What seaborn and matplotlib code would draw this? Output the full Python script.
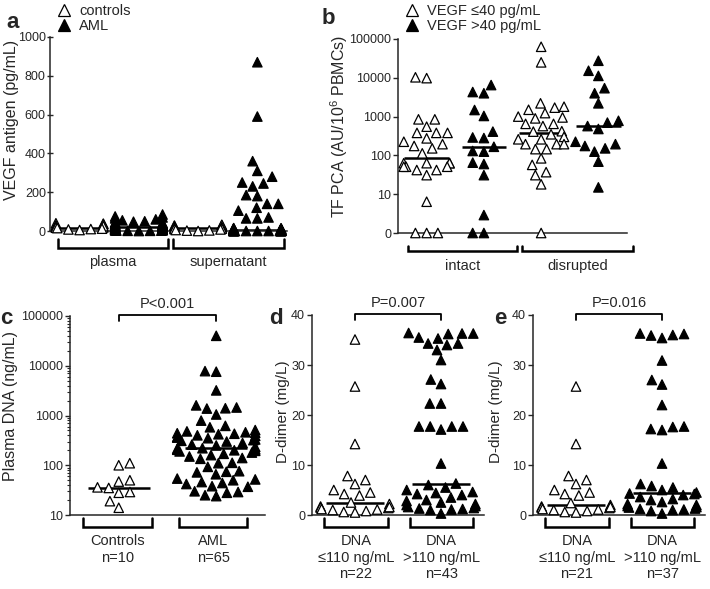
import matplotlib
matplotlib.use('Agg')
import matplotlib.pyplot as plt
from matplotlib.lines import Line2D
import numpy as np
import pandas as pd
import seaborn as sns
import warnings

warnings.filterwarnings('ignore')

# ---- panel a: VEGF antigen (pg/mL) ----
a_groups = ['plasma controls', 'plasma AML', 'supernatant controls', 'supernatant AML']
a_fills = ['open', 'filled', 'open', 'filled']
a_plasma_controls = [38, 40, 35, 30, 22, 17, 18, 25, 15, 10, 8, 5, 12]
a_plasma_aml = [85, 75, 70, 65, 60, 55, 50, 48, 45, 42, 40, 38, 36, 35, 34, 32, 30, 30,
                28, 28, 26, 25, 25, 24, 22, 22, 21, 20, 20, 19, 18, 18, 17, 16, 16, 15,
                15, 14, 13, 12, 12, 11, 10, 10, 9, 8, 8, 7, 6, 5, 5, 4, 3, 2, 2, 1, 1, 0]
a_super_controls = [30, 32, 28, 25, 20, 18, 15, 12, 10, 8, 5, 3, 2, 0]
a_super_aml = [870, 590, 360, 310, 280, 250, 245, 230, 185, 180, 140, 140, 120, 105, 70, 65, 65,
               15, 14, 13, 12, 12, 11, 10, 10, 9, 9, 8, 8, 7, 7, 6, 6, 5, 5, 5, 4, 4, 4,
               3, 3, 3, 2, 2, 2, 2, 1, 1, 1, 1, 1, 0, 0, 0, 0, 0, 0, 0, 0, 0, 0, 0]
a_labels = ['plasma', 'supernatant']

# ---- panel b: TF PCA (AU/10^6 PBMCs) ----
b_groups = ['intact low', 'intact high', 'disrupted low', 'disrupted high']
b_fills = ['open', 'filled', 'open', 'filled']
b_intact_low = [10300, 9800, 850, 850, 550, 380, 380, 380, 275, 225, 195, 175, 152, 113,
                63, 63, 63, 63, 51, 51, 51, 42, 42, 31, 6.4, 0, 0, 0]
b_intact_high = [6500, 4300, 4000, 1480, 1040, 410, 280, 290, 167, 125, 130, 60, 65, 31, 2.9, 0, 0]
b_disrupted_low = [63000, 25000, 2200, 1800, 1700, 1500, 1230, 1000, 900, 950, 650, 650, 570,
                   410, 420, 350, 300, 260, 260, 195, 195, 195, 145, 145, 84, 57, 37, 31, 18, 0]
b_disrupted_high = [27500, 15200, 11200, 5400, 4000, 2200, 780, 700, 570, 480, 225, 195, 175,
                    152, 125, 69, 15]
b_labels = ['intact', 'disrupted']

# ---- panel c: Plasma DNA (ng/mL) ----
c_groups = ['Controls', 'AML']
c_fills = ['open', 'filled']
c_controls = [110, 100, 50, 47, 36, 35, 29, 28, 19, 14]
c_aml = [40000, 7600, 7800, 3200, 1600, 1450, 1380, 1400, 1050, 790, 620, 580,
         510, 480, 460, 450, 440, 430, 420, 400, 390, 370, 360, 350, 330, 320, 310,
         300, 280, 260, 250, 235, 220,
         215, 210, 205, 200, 195, 190, 180, 170, 160, 150,
         140, 135, 112, 110, 93, 74, 72, 76, 66, 52, 50, 54, 44, 42, 46, 37, 38, 29, 28, 30, 25, 24]
c_labels = ['Controls\nn=10', 'AML\nn=65']

# ---- panel d: D-dimer (mg/L) ----
d_groups = ['low', 'high']
d_low = [35.1, 25.7, 14.2, 7.8, 7.0, 6.2, 5.0, 4.5, 4.2, 3.9, 2.5, 2.2, 1.7, 1.5, 1.4, 1.2,
         1.0, 1.1, 0.8, 0.6, 0.5, 1.6]
d_high = [36.3, 35.5, 36.3, 35.3, 36.2, 36.4, 34.3, 34.0, 34.3, 33.0, 31.0, 27.1, 26.2, 22.3,
          22.3, 17.7, 17.7, 17.7, 17.7, 17.1, 10.3, 6.3, 6.0,
          5.5, 5.0, 4.6, 4.4, 4.2, 4.0, 3.5, 3.0, 2.8, 2.5, 2.2, 2.0, 1.8, 1.6, 1.4, 1.3, 1.2, 1.1, 1.0, 0.3]
d_labels = ['DNA\n\u2264110 ng/mL\nn=22', 'DNA\n>110 ng/mL\nn=43']

# ---- panel e: D-dimer (mg/L) ----
e_low = [25.7, 14.2, 7.8, 7.0, 6.2, 5.0, 4.5, 4.2, 3.9, 2.4, 2.0, 1.7, 1.5, 1.4, 1.2, 1.0,
         1.1, 0.8, 0.6, 0.5, 1.6]
e_high = [36.3, 36.0, 35.4, 35.9, 36.2, 30.9, 27.0, 26.1, 22.0, 17.7, 17.0, 17.2, 17.6, 10.3,
          6.2, 5.8, 5.5, 5.0, 4.5,
          4.3, 4.2, 4.0, 3.6, 3.2, 3.0, 2.6, 2.2, 2.0, 1.8, 1.6, 1.5, 1.3, 1.2, 1.1, 1.0, 0.8, 0.3]
e_labels = ['DNA\n\u2264110 ng/mL\nn=21', 'DNA\n>110 ng/mL\nn=37']


sns.set_style('ticks')
plt.rcParams['font.family'] = ['Liberation Sans', 'DejaVu Sans']
plt.rcParams['mathtext.fontset'] = 'custom'
plt.rcParams['mathtext.rm'] = 'Liberation Sans'
plt.rcParams['mathtext.default'] = 'rm'


def long_frame(groups, fills, values):
    rows = []
    for g, f, vals in zip(groups, fills, values):
        rows += [(g, f, v) for v in vals]
    return pd.DataFrame(rows, columns=['group', 'fill', 'value'])


def column_scatter(ax, df, order, med_width):
    sns.swarmplot(data=df, x='group', y='value', hue='fill', order=order,
                  hue_order=['open', 'filled'], palette={'open': 'white', 'filled': 'black'},
                  marker='^', size=6.8, edgecolor='black', linewidth=0.9,
                  legend=False, ax=ax)
    sns.boxplot(data=df, x='group', y='value', order=order, width=med_width,
                showbox=False, showcaps=False, showfliers=False, whis=0,
                whiskerprops={'visible': False},
                medianprops={'color': 'black', 'linewidth': 1.8}, ax=ax)
    for coll in ax.collections:
        coll.set_clip_on(False)
    ax.set_xlim(-0.5, len(order) - 0.5)
    ax.set_xlabel('')
    sns.despine(ax=ax)
    ax.tick_params(axis='y', direction='out', length=3.5, width=1, pad=1.5, labelsize=9)
    for s in ['left', 'bottom']:
        ax.spines[s].set_linewidth(1.1)


def brackets(ax, spans, y_low, y_high, pad, labels, fontsize=10.5):
    tr = ax.get_xaxis_transform()
    for x0, x1 in spans:
        ax.plot([x0, x0, x1, x1], [y_high, y_low, y_low, y_high], color='black', lw=1.8,
                transform=tr, clip_on=False, solid_joinstyle='miter')
    ax.set_xticks([(x0 + x1) / 2 for x0, x1 in spans], labels)
    ax.tick_params(axis='x', length=0, pad=pad, labelsize=fontsize)


def pbar(ax, text):
    tr = ax.get_xaxis_transform()
    ax.plot([0, 0, 1, 1], [0.975, 1.005, 1.005, 0.975], color='black', lw=1.3,
            transform=tr, clip_on=False)
    ax.text(0.5, 1.025, text, transform=tr, ha='center', va='bottom', fontsize=10.5)


fig = plt.figure(figsize=(7.1, 5.89), dpi=100)
ax_a = fig.add_axes([0.0704, 0.6078, 0.3338, 0.3294])
ax_b = fig.add_axes([0.5606, 0.6044, 0.3225, 0.3294])
ax_c = fig.add_axes([0.0986, 0.1256, 0.2746, 0.3379])
ax_d = fig.add_axes([0.4394, 0.1256, 0.2423, 0.3396])
ax_e = fig.add_axes([0.7507, 0.1256, 0.2423, 0.3396])

open_h = Line2D([], [], marker='^', ls='none', mfc='white', mec='black', ms=8, mew=0.9)
fill_h = Line2D([], [], marker='^', ls='none', mfc='black', mec='black', ms=8, mew=0.9)

# a
df_a = long_frame(a_groups, a_fills, [a_plasma_controls, a_plasma_aml, a_super_controls, a_super_aml])
ax_a.set_ylim(0, 1000)
column_scatter(ax_a, df_a, a_groups, 0.78)
ax_a.set_ylim(0, 1000)
ax_a.set_yticks([0, 200, 400, 600, 800, 1000])
ax_a.tick_params(axis='y', direction='inout', length=4, pad=1)
ax_a.set_ylabel('VEGF antigen (pg/mL)', fontsize=11.5)
ax_a.yaxis.set_label_coords(-0.132, 0.57)
brackets(ax_a, [(-0.37, 1.49), (1.58, 3.45)], -0.088, -0.041, 17, a_labels)
ax_a.legend([open_h, fill_h], ['controls', 'AML'], loc='lower left', bbox_to_anchor=(0.03, 1.02),
            frameon=False, handlelength=1.0, handletextpad=0.5, labelspacing=0.05,
            borderaxespad=0, borderpad=0, fontsize=10.5)

# b
df_b = long_frame(b_groups, b_fills, [b_intact_low, b_intact_high, b_disrupted_low, b_disrupted_high])
df_b['value'] = np.where(df_b['value'] <= 0, 1, df_b['value'])
ax_b.set_yscale('log')
ax_b.set_ylim(1, 1e5)
column_scatter(ax_b, df_b, b_groups, 0.78)
ax_b.set_ylim(1, 1e5)
ax_b.set_yticks([1, 10, 100, 1000, 1e4, 1e5], ['0', '10', '100', '1000', '10000', '100000'])
ax_b.minorticks_off()
ax_b.set_ylabel('TF PCA (AU/10$^{6}$ PBMCs)', fontsize=11.5)
ax_b.yaxis.set_label_coords(-0.21, 0.55)
brackets(ax_b, [(-0.33, 1.58), (1.67, 3.6)], -0.093, -0.067, 19, b_labels)
ax_b.legend([open_h, fill_h], ['VEGF \u226440 pg/mL', 'VEGF >40 pg/mL'], loc='lower left',
            bbox_to_anchor=(0.03, 1.03), frameon=False, handlelength=1.0, handletextpad=0.5,
            labelspacing=0.05, borderaxespad=0, borderpad=0, fontsize=10.5)

# c
df_c = long_frame(c_groups, c_fills, [c_controls, c_aml])
ax_c.set_yscale('log')
ax_c.set_ylim(10, 1e5)
column_scatter(ax_c, df_c, c_groups, 0.64)
ax_c.set_ylim(10, 1e5)
ax_c.set_yticks([10, 100, 1000, 1e4, 1e5], ['10', '100', '1000', '10000', '100000'])
ax_c.tick_params(axis='y', which='minor', length=2, width=0.8)
ax_c.set_ylabel('Plasma DNA (ng/mL)', fontsize=11.5)
ax_c.yaxis.set_label_coords(-0.265, 0.55)
brackets(ax_c, [(-0.37, 0.34), (0.62, 1.32)], -0.06, -0.015, 14, c_labels)
pbar(ax_c, 'P<0.001')

# d
df_d = long_frame(d_groups, c_fills, [d_low, d_high])
ax_d.set_ylim(0, 40)
column_scatter(ax_d, df_d, d_groups, 0.68)
ax_d.set_ylim(0, 40)
ax_d.set_yticks([0, 10, 20, 30, 40])
ax_d.set_ylabel('D-dimer (mg/L)', fontsize=11)
ax_d.yaxis.set_label_coords(-0.125, 0.515)
brackets(ax_d, [(-0.36, 0.38), (0.64, 1.37)], -0.06, -0.015, 14, d_labels)
pbar(ax_d, 'P=0.007')

# e
df_e = long_frame(d_groups, c_fills, [e_low, e_high])
ax_e.set_ylim(0, 40)
column_scatter(ax_e, df_e, d_groups, 0.68)
ax_e.set_ylim(0, 40)
ax_e.set_yticks([0, 10, 20, 30, 40])
ax_e.set_ylabel('D-dimer (mg/L)', fontsize=11)
ax_e.yaxis.set_label_coords(-0.174, 0.515)
brackets(ax_e, [(-0.36, 0.38), (0.64, 1.37)], -0.06, -0.015, 14, e_labels)
pbar(ax_e, 'P=0.016')

for letter, (px, py) in zip('abcde', [(13, 22), (328, 19), (6, 318), (276, 318), (500, 318)]):
    fig.text(px / 710, 1 - py / 589, letter, fontsize=16, fontweight='bold',
             ha='center', va='center')

fig.savefig('out.png', dpi=100)
